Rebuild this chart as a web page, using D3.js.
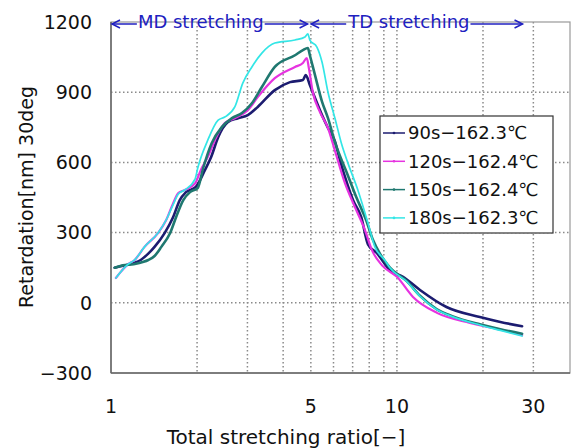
<!DOCTYPE html>
<html><head><meta charset="utf-8">
<script src="https://cdn.jsdelivr.net/npm/d3@7"></script>
<style>body{margin:0;background:#fff}svg{display:block}text{font-family:"DejaVu Sans",sans-serif}</style>
</head><body>
<script>
// ---- data ----
const seriesNames = ["90s\u2212162.3\u2103","120s\u2212162.4\u2103","150s\u2212162.4\u2103","180s\u2212162.3\u2103"];
const seriesColors = ["#1c1c70","#e633e0","#1f7870","#33e6e6"];
const seriesWidths = [2.6,2.2,2.6,1.7];

const x90 = [1.03,1.10,1.20,1.27,1.35,1.42,1.54,1.65,1.74,1.83,1.98,2.13,2.24,2.37,2.56,2.78,3.01,3.26,3.74,4.23,4.69,4.80,4.96,5.17,5.47,5.74,6.07,6.32,6.69,7.02,7.5,7.92,8.5,9.45,10.5,12.04,14.9,19.5,23.0,27.4];
const y90 = [150,158,170,183,210,239,298,367,439,473,495,567,623,708,772,789,802,837,909,943,952,973,931,875,802,747,690,610,511,439,367,250,213,140,111,55,-18,-61,-82,-100];

const x120 = [1.04,1.08,1.14,1.21,1.31,1.46,1.56,1.65,1.72,1.81,1.97,2.06,2.18,2.31,2.50,2.71,3.01,3.26,3.74,4.40,4.69,4.84,4.92,5.08,5.38,5.74,6.07,6.58,7.13,7.73,8.17,8.87,10.0,11.38,13.8,18.0,23.0,27.4];
const y120 = [106,131,162,183,239,298,354,426,469,482,511,567,623,695,768,789,823,879,960,1008,1025,1046,1003,900,815,747,650,511,409,311,226,160,111,25,-43,-86,-115,-138];

const x150 = [1.03,1.10,1.20,1.30,1.35,1.42,1.50,1.61,1.69,1.79,1.89,2.01,2.10,2.25,2.44,2.65,2.87,3.11,3.37,3.74,4.40,4.69,4.88,4.96,5.17,5.47,5.74,6.07,6.69,7.2,7.8,8.25,8.72,9.45,10.84,12.04,13.8,15.7,19.5,23.0,27.4];
const y150 = [150,160,165,175,183,200,239,298,367,439,473,490,575,682,751,789,811,853,922,1008,1058,1080,1089,1058,973,860,789,687,554,453,354,268,210,150,92,30,-28,-58,-92,-113,-132];

const x180 = [1.04,1.08,1.14,1.21,1.31,1.46,1.56,1.65,1.72,1.81,1.97,2.01,2.18,2.37,2.50,2.71,2.89,3.11,3.37,3.74,4.40,4.77,4.88,4.96,5.25,5.47,5.74,6.07,6.42,6.74,7.30,7.92,8.37,9.06,9.45,10.84,12.04,13.8,15.7,19.5,23.0,27.4];
const y180 = [106,131,162,183,239,298,354,420,465,482,530,575,695,781,794,837,939,1008,1067,1110,1123,1136,1149,1123,1093,1029,900,789,674,597,482,341,239,183,150,90,28,-30,-60,-95,-118,-142];

const xDomain = [1, 40.3];
const yDomain = [-300, 1200];
const yTicks = [-300, 0, 300, 600, 900, 1200];
const xTickLabels = [1, 5, 10, 30];
const xGrid = [2,3,4,5,6,7,8,9,10,20,30];
const mdRange = [1, 4.87];
const tdRange = [4.97, 27.5];
const annotLabels = ["MD stretching", "TD stretching"];

// ---- layout ----
const W = 571, H = 448;
const L = 111, R = 570, T = 22, B = 373;
const svg = d3.select("body").append("svg").attr("width", W).attr("height", H);
const x = d3.scaleLog().domain(xDomain).range([L, R]);
const y = d3.scaleLinear().domain(yDomain).range([B, T]);

// grid
const g = svg.append("g");
g.selectAll(".hg").data(yTicks.filter(v => v > -300 && v < 1200)).join("line")
  .attr("x1", L).attr("x2", R).attr("y1", d => y(d)).attr("y2", d => y(d))
  .attr("stroke", "#8a8a8a").attr("stroke-width", 1.5).attr("stroke-dasharray", "1.5,2.5");
g.selectAll(".vg").data(xGrid).join("line")
  .attr("x1", d => x(d)).attr("x2", d => x(d)).attr("y1", T).attr("y2", B)
  .attr("stroke", "#8a8a8a").attr("stroke-width", 1.5).attr("stroke-dasharray", "1.5,2.5");

// frame
svg.append("rect").attr("x", L).attr("y", T).attr("width", R - L).attr("height", B - T)
  .attr("fill", "none").attr("stroke", "#999").attr("stroke-width", 1.2);
svg.append("line").attr("x1", L).attr("x2", L).attr("y1", T).attr("y2", B).attr("stroke", "#666").attr("stroke-width", 1.5);
svg.append("line").attr("x1", L).attr("x2", R).attr("y1", B).attr("y2", B).attr("stroke", "#666").attr("stroke-width", 1.5);

// series
const xs = [x90, x120, x150, x180], ys = [y90, y120, y150, y180];
const line = d3.line().x(d => x(d[0])).y(d => y(d[1])).curve(d3.curveMonotoneX);
xs.forEach((xa, i) => {
  const pts = xa.map((v, j) => [v, ys[i][j]]);
  svg.append("path").datum(pts).attr("d", line).attr("fill", "none")
    .attr("stroke", seriesColors[i]).attr("stroke-width", seriesWidths[i])
    .attr("stroke-linejoin", "round").attr("stroke-linecap", "round");
});

// axis labels
svg.selectAll(".yt").data(yTicks).join("text")
  .attr("x", 92).attr("y", d => y(d)).attr("dy", "0.36em").attr("text-anchor", "end")
  .attr("font-size", 19).attr("fill", "#111").text(d => d < 0 ? "\u2212" + Math.abs(d) : d);
svg.selectAll(".xt").data(xTickLabels).join("text")
  .attr("x", d => x(d)).attr("y", 413).attr("text-anchor", "middle")
  .attr("font-size", 19).attr("fill", "#111").text(d => d);
svg.append("text").attr("x", 286).attr("y", 444).attr("text-anchor", "middle")
  .attr("font-size", 20).attr("fill", "#111").text("Total stretching ratio[\u2212]");
svg.append("text").attr("transform", "translate(33,197) rotate(-90)").attr("text-anchor", "middle")
  .attr("font-size", 19).attr("fill", "#111").text("Retardation[nm] 30deg");

// annotations
const blue = "#2020c0";
const defs = svg.append("defs");
[["aL", "M8,-4 L0,0 L8,4"], ["aR", "M-8,-4 L0,0 L-8,4"]].forEach(([id, p]) => {
  defs.append("marker").attr("id", id).attr("viewBox", "-10 -6 20 12").attr("refX", 0).attr("refY", 0)
    .attr("markerWidth", 20).attr("markerHeight", 12).attr("markerUnits", "userSpaceOnUse").attr("orient", "0")
    .append("path").attr("d", p).attr("fill", "none").attr("stroke", blue).attr("stroke-width", 1.5);
});
[mdRange, tdRange].forEach((rg, i) => {
  const x0 = x(rg[0]) + 1, x1 = x(rg[1]);
  const t = svg.append("text").attr("x", (x0 + x1) / 2 + (i === 0 ? -9 : -8)).attr("y", 28).attr("text-anchor", "middle")
    .attr("font-size", 18).attr("fill", blue).text(annotLabels[i]);
  const bb = t.node().getBBox();
  svg.append("line").attr("x1", x0).attr("x2", bb.x - 1).attr("y1", 24).attr("y2", 24)
    .attr("stroke", blue).attr("stroke-width", 1.5).attr("marker-start", "url(#aL)");
  svg.append("line").attr("x1", bb.x + bb.width + 1).attr("x2", x1).attr("y1", 24).attr("y2", 24)
    .attr("stroke", blue).attr("stroke-width", 1.5).attr("marker-end", "url(#aR)");
});

// legend
const lg = svg.append("g");
lg.append("rect").attr("x", 380).attr("y", 116).attr("width", 173).attr("height", 117)
  .attr("fill", "#fff").attr("stroke", "#333").attr("stroke-width", 1.2);
seriesNames.forEach((n, i) => {
  const cy = 133 + i * 28.3;
  lg.append("line").attr("x1", 383).attr("x2", 405).attr("y1", cy).attr("y2", cy)
    .attr("stroke", seriesColors[i]).attr("stroke-width", 1.5);
  lg.append("circle").attr("cx", 394).attr("cy", cy).attr("r", 1.3).attr("fill", seriesColors[i]);
  lg.append("text").attr("x", 408).attr("y", cy).attr("dy", "0.36em").attr("font-size", 18)
    .attr("fill", "#111").text(n);
});
</script>
</body></html>
